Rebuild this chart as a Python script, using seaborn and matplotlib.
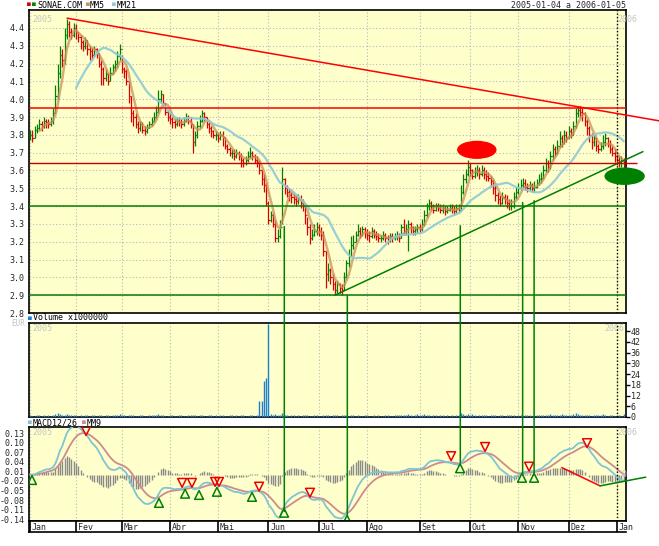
import numpy as np
import pandas as pd
import matplotlib
matplotlib.use("Agg")
import matplotlib.pyplot as plt
import matplotlib.transforms as mtransforms
from matplotlib.patches import Ellipse, ConnectionPatch
import seaborn as sns

sns.set_theme(style="white")
plt.rcParams["font.family"] = ["DejaVu Sans Mono", "DejaVu Sans"]
plt.rcParams["font.size"] = 6
plt.rcParams["axes.unicode_minus"] = False

# --- data (SONAE.COM, 2005-01-04 .. 2006-01-05) ---
close = [
    3.80, 3.78, 3.83, 3.84, 3.86, 3.85, 3.88, 3.87, 3.86, 3.88,
    3.92, 4.02, 4.15, 4.25, 4.22, 4.36, 4.42, 4.38, 4.36, 4.40,
    4.38, 4.35, 4.32, 4.30, 4.33, 4.28, 4.27, 4.25, 4.28, 4.26,
    4.20, 4.17, 4.12, 4.14, 4.10, 4.15, 4.18, 4.20, 4.24, 4.28,
    4.17, 4.16, 4.10, 4.02, 3.92, 3.90, 3.86, 3.84, 3.86, 3.83,
    3.82, 3.84, 3.86, 3.88, 3.90, 3.93, 4.00, 4.03, 3.98, 3.93,
    3.90, 3.89, 3.87, 3.86, 3.88, 3.87, 3.86, 3.88, 3.90, 3.88,
    3.86, 3.76, 3.80, 3.85, 3.88, 3.92, 3.90, 3.86, 3.84, 3.82,
    3.80, 3.80, 3.78, 3.80, 3.79, 3.74, 3.72, 3.70, 3.70, 3.68,
    3.70, 3.68, 3.66, 3.64, 3.66, 3.68, 3.70, 3.68, 3.66, 3.65,
    3.60, 3.55, 3.52, 3.42, 3.32, 3.35, 3.30, 3.22, 3.23, 3.28,
    3.55, 3.50, 3.48, 3.46, 3.45, 3.44, 3.43, 3.44, 3.42, 3.40,
    3.35, 3.28, 3.22, 3.24, 3.26, 3.28, 3.26, 3.24, 3.15, 3.02,
    3.04, 3.00, 2.96, 2.93, 2.96, 2.94, 2.93, 3.00, 3.08, 3.12,
    3.18, 3.20, 3.24, 3.26, 3.24, 3.27, 3.25, 3.24, 3.23, 3.26,
    3.24, 3.23, 3.22, 3.22, 3.24, 3.22, 3.21, 3.23, 3.22, 3.23,
    3.24, 3.22, 3.28, 3.26, 3.27, 3.30, 3.28, 3.26, 3.27, 3.28,
    3.27, 3.30, 3.35, 3.40, 3.42, 3.40, 3.38, 3.40, 3.39, 3.38,
    3.39, 3.37, 3.38, 3.39, 3.38, 3.37, 3.39, 3.38, 3.48, 3.55,
    3.58, 3.62, 3.60, 3.57, 3.59, 3.60, 3.58, 3.60, 3.58, 3.57,
    3.56, 3.54, 3.50, 3.46, 3.44, 3.42, 3.45, 3.44, 3.42, 3.40,
    3.40, 3.45, 3.48, 3.50, 3.52, 3.53, 3.51, 3.50, 3.52, 3.50,
    3.51, 3.53, 3.55, 3.56, 3.60, 3.64, 3.62, 3.68, 3.72, 3.70,
    3.74, 3.78, 3.76, 3.80, 3.78, 3.82, 3.80, 3.85, 3.92, 3.94,
    3.93, 3.92, 3.88, 3.84, 3.80, 3.76, 3.78, 3.74, 3.72, 3.74,
    3.76, 3.78, 3.75, 3.72, 3.70, 3.68, 3.66, 3.64, 3.66, 3.64,
]
high = [
    3.83, 3.83, 3.85, 3.86, 3.89, 3.88, 3.90, 3.89, 3.89, 3.90,
    3.95, 4.08, 4.20, 4.30, 4.28, 4.40, 4.45, 4.44, 4.40, 4.43,
    4.42, 4.38, 4.36, 4.33, 4.35, 4.33, 4.30, 4.29, 4.30, 4.29,
    4.26, 4.22, 4.18, 4.17, 4.15, 4.18, 4.20, 4.22, 4.27, 4.31,
    4.25, 4.18, 4.17, 4.10, 4.02, 3.94, 3.92, 3.88, 3.88, 3.87,
    3.85, 3.86, 3.88, 3.90, 3.93, 3.96, 4.05, 4.05, 4.03, 3.98,
    3.94, 3.92, 3.90, 3.89, 3.90, 3.90, 3.89, 3.90, 3.92, 3.91,
    3.90, 3.86, 3.82, 3.88, 3.91, 3.94, 3.93, 3.90, 3.87, 3.85,
    3.83, 3.82, 3.81, 3.82, 3.82, 3.79, 3.75, 3.73, 3.72, 3.72,
    3.72, 3.71, 3.70, 3.67, 3.68, 3.71, 3.73, 3.71, 3.69, 3.68,
    3.66, 3.60, 3.58, 3.53, 3.43, 3.37, 3.36, 3.32, 3.27, 3.32,
    3.62, 3.56, 3.52, 3.50, 3.48, 3.47, 3.46, 3.47, 3.46, 3.44,
    3.40, 3.34, 3.30, 3.27, 3.30, 3.31, 3.30, 3.28, 3.26, 3.15,
    3.08, 3.05, 3.02, 2.98, 2.98, 2.97, 2.96, 3.03, 3.10, 3.16,
    3.23, 3.24, 3.26, 3.30, 3.28, 3.29, 3.28, 3.27, 3.26, 3.28,
    3.27, 3.26, 3.25, 3.24, 3.26, 3.25, 3.24, 3.25, 3.25, 3.25,
    3.26, 3.25, 3.30, 3.33, 3.30, 3.32, 3.31, 3.29, 3.29, 3.30,
    3.30, 3.33, 3.38, 3.42, 3.44, 3.43, 3.41, 3.42, 3.42, 3.41,
    3.41, 3.40, 3.40, 3.41, 3.41, 3.40, 3.41, 3.41, 3.52, 3.58,
    3.61, 3.66, 3.64, 3.61, 3.62, 3.63, 3.62, 3.63, 3.62, 3.60,
    3.59, 3.57, 3.55, 3.52, 3.48, 3.46, 3.48, 3.47, 3.46, 3.44,
    3.44, 3.48, 3.51, 3.53, 3.55, 3.56, 3.55, 3.53, 3.54, 3.53,
    3.54, 3.55, 3.58, 3.59, 3.63, 3.67, 3.66, 3.71, 3.75, 3.74,
    3.77, 3.82, 3.80, 3.83, 3.82, 3.85, 3.84, 3.88, 3.95, 3.96,
    3.96, 3.95, 3.93, 3.89, 3.85, 3.81, 3.80, 3.79, 3.75, 3.76,
    3.80, 3.81, 3.79, 3.77, 3.74, 3.72, 3.69, 3.68, 3.68, 3.67,
]
low = [
    3.77, 3.76, 3.78, 3.81, 3.83, 3.82, 3.84, 3.84, 3.84, 3.85,
    3.86, 3.92, 4.00, 4.12, 4.18, 4.20, 4.34, 4.35, 4.34, 4.35,
    4.34, 4.32, 4.28, 4.27, 4.28, 4.25, 4.22, 4.22, 4.24, 4.23,
    4.18, 4.08, 4.08, 4.10, 4.08, 4.10, 4.14, 4.16, 4.18, 4.22,
    4.15, 4.12, 4.08, 3.98, 3.87, 3.85, 3.84, 3.81, 3.82, 3.81,
    3.80, 3.81, 3.84, 3.85, 3.87, 3.89, 3.92, 3.98, 3.96, 3.91,
    3.88, 3.86, 3.84, 3.84, 3.85, 3.85, 3.84, 3.85, 3.87, 3.86,
    3.84, 3.70, 3.74, 3.78, 3.84, 3.87, 3.88, 3.84, 3.81, 3.79,
    3.78, 3.77, 3.76, 3.77, 3.74, 3.72, 3.70, 3.68, 3.67, 3.66,
    3.67, 3.66, 3.62, 3.62, 3.63, 3.65, 3.67, 3.66, 3.64, 3.62,
    3.58, 3.52, 3.48, 3.40, 3.30, 3.31, 3.28, 3.20, 3.20, 3.22,
    3.30, 3.47, 3.45, 3.43, 3.42, 3.41, 3.40, 3.41, 3.39, 3.37,
    3.30, 3.24, 3.19, 3.21, 3.23, 3.24, 3.23, 3.21, 3.12, 2.94,
    2.98, 2.96, 2.93, 2.90, 2.91, 2.91, 2.90, 2.93, 2.99, 3.06,
    3.12, 3.16, 3.20, 3.23, 3.22, 3.23, 3.22, 3.21, 3.20, 3.22,
    3.22, 3.21, 3.20, 3.20, 3.21, 3.20, 3.19, 3.20, 3.20, 3.21,
    3.21, 3.20, 3.22, 3.24, 3.24, 3.15, 3.25, 3.24, 3.24, 3.25,
    3.25, 3.26, 3.29, 3.34, 3.38, 3.38, 3.36, 3.37, 3.37, 3.36,
    3.36, 3.35, 3.36, 3.37, 3.36, 3.35, 3.36, 3.36, 3.37, 3.47,
    3.53, 3.57, 3.57, 3.55, 3.56, 3.57, 3.55, 3.57, 3.55, 3.54,
    3.54, 3.51, 3.47, 3.43, 3.41, 3.40, 3.41, 3.41, 3.39, 3.38,
    3.38, 3.39, 3.44, 3.47, 3.49, 3.50, 3.49, 3.48, 3.49, 3.48,
    3.48, 3.50, 3.52, 3.53, 3.55, 3.59, 3.59, 3.61, 3.66, 3.68,
    3.69, 3.73, 3.73, 3.75, 3.76, 3.78, 3.78, 3.80, 3.84, 3.90,
    3.90, 3.88, 3.85, 3.80, 3.76, 3.72, 3.74, 3.71, 3.70, 3.71,
    3.72, 3.74, 3.73, 3.70, 3.68, 3.65, 3.63, 3.62, 3.62, 3.60,
]
volume = [  # millions
    1.0, 0.8, 0.7, 1.1, 0.9, 0.6, 1.0, 0.7, 1.2, 0.8,
    1.3, 1.5, 2.4, 1.6, 1.1, 1.3, 1.8, 1.0, 0.9, 1.2,
    1.0, 0.8, 1.1, 0.7, 1.0, 0.9, 0.7, 1.0, 1.1, 0.8,
    0.9, 1.0, 0.7, 0.9, 1.2, 0.8, 1.0, 1.3, 1.2, 1.6,
    1.0, 0.9, 0.7, 1.1, 1.3, 1.0, 0.8, 0.7, 0.9, 1.0,
    0.8, 0.7, 1.0, 0.9, 1.1, 1.0, 1.5, 1.3, 1.0, 0.8,
    0.7, 0.9, 1.0, 0.8, 0.7, 0.9, 1.0, 0.7, 0.8, 1.0,
    0.9, 1.3, 1.0, 0.8, 1.0, 1.2, 0.8, 0.7, 0.9, 1.0,
    0.8, 1.0, 0.7, 0.9, 1.0, 0.8, 0.7, 0.9, 1.0, 0.8,
    0.9, 0.7, 1.1, 1.0, 0.8, 0.7, 0.9, 1.0, 0.8, 1.2,
    9.0, 9.0, 20.0, 22.0, 52.0, 1.4, 1.2, 1.4, 1.1, 1.0,
    2.0, 1.3, 1.0, 0.8, 1.0, 0.9, 0.7, 1.0, 0.8, 0.9,
    1.0, 1.1, 0.8, 0.7, 1.0, 0.9, 0.7, 0.8, 1.1, 1.3,
    1.0, 0.8, 1.0, 1.1, 0.9, 0.7, 1.0, 1.3, 1.0, 0.8,
    1.1, 0.9, 0.7, 1.0, 0.8, 0.7, 0.9, 1.0, 0.7, 0.8,
    0.9, 0.7, 1.0, 0.8, 0.7, 0.9, 1.0, 0.7, 0.8, 1.0,
    0.9, 1.0, 1.3, 1.1, 0.9, 1.5, 1.0, 0.8, 1.0, 1.9,
    1.1, 1.0, 1.4, 1.3, 1.0, 0.8, 1.0, 0.9, 0.7, 1.0,
    0.9, 0.7, 1.0, 0.8, 1.0, 0.7, 0.9, 1.0, 2.0, 1.5,
    1.3, 1.4, 1.1, 1.8, 1.0, 0.8, 1.0, 1.1, 0.9, 1.0,
    0.8, 1.0, 1.1, 1.0, 0.8, 1.0, 0.9, 0.7, 1.0, 1.1,
    1.3, 1.0, 0.8, 1.0, 0.9, 0.7, 1.0, 0.9, 1.0, 0.8,
    0.9, 1.0, 1.1, 0.9, 1.0, 1.3, 1.1, 1.4, 1.3, 1.1,
    1.0, 1.3, 1.7, 1.1, 1.0, 1.3, 1.1, 1.4, 2.0, 1.5,
    1.3, 1.1, 1.0, 1.1, 1.0, 0.8, 1.1, 1.0, 0.9, 1.0,
    1.5, 1.0, 0.8, 1.0, 0.9, 0.7, 0.9, 1.0, 0.8, 1.6,
]

# MACD crossover markers (trading day, MACD level)
buy_day = [0.8, 56.2, 67.6, 73.7, 81.5, 96.8, 110.8, 138.3, 187.6, 214.6, 219.9]
buy_val = [-0.017, -0.089, -0.060, -0.064, -0.054, -0.070, -0.120, -0.142, 0.020, -0.010, -0.010]
sell_day = [24.4, 66.3, 70.6, 80.7, 82.4, 99.9, 122.1, 183.7, 198.5, 217.7, 243.0]
sell_val = [0.137, -0.026, -0.026, -0.023, -0.023, -0.038, -0.057, 0.058, 0.087, 0.025, 0.099]

# hand-drawn analysis lines
red_trend_day, red_trend_px = [16.1, 274.4], [4.455, 3.879]
green_trend_day, green_trend_px = [133.0, 267.4], [2.90, 3.706]
red_levels = [3.95, 3.64]
green_levels = [3.40, 2.90]
link_day = [110.9, 138.4, 187.7, 214.9, 219.9]
link_price = [3.285, 2.90, 3.29, 3.42, 3.43]
link_macd = [-0.116, -0.132, 0.037, 0.0, 0.0]
macd_red_day, macd_red_val = [232.0, 248.7], [0.022, -0.0355]
macd_green_day, macd_green_val = [248.7, 268.6], [-0.0355, -0.008]
month_names = ["Jan", "Fev", "Mar", "Abr", "Mai", "Jun", "Jul", "Ago", "Set", "Out", "Nov", "Dez", "Jan"]

# --- trading calendar ---
dates = pd.bdate_range("2005-01-04", "2006-01-05")
dates = dates[~dates.isin(pd.to_datetime(["2005-03-25", "2005-03-28", "2005-12-26"]))]
df = pd.DataFrame({"date": dates, "close": close, "high": high, "low": low, "volume": volume})
df["day"] = np.arange(len(df))
df["open"] = df["close"].shift(1).fillna(df["close"])
df["ma5"] = df["close"].rolling(5).mean()
df["ma21"] = df["close"].rolling(21).mean()
df["macd"] = df["close"].ewm(span=12, adjust=False).mean() - df["close"].ewm(span=26, adjust=False).mean()
df["sig"] = df["macd"].ewm(span=9, adjust=False).mean()
df["hist"] = df["macd"] - df["sig"]
month_start = df.groupby(df["date"].dt.to_period("M"))["day"].min().tolist()

BG = "#ffffcc"
RED, GREEN = "#dd0000", "#008000"
GRID = dict(color="#b8b8b8", linestyle=(0, (1, 2)), linewidth=0.8)
LIGHT = "#c4c4c4"
FS = 6

W, H = 659, 546
fig = plt.figure(figsize=(W / 100, H / 100), dpi=100)


def fx(x):
    return x / W


def fy(y):
    return 1 - y / H


left, right = 29, 626
ax_p = fig.add_axes([fx(left), fy(313), fx(right) - fx(left), fy(10) - fy(313)])
ax_v = fig.add_axes([fx(left), fy(417), fx(right) - fx(left), fy(323) - fy(417)])
ax_m = fig.add_axes([fx(left), fy(521), fx(right) - fx(left), fy(427) - fy(521)])
ax_t = fig.add_axes([fx(left), fy(532), fx(right) - fx(left), fy(521) - fy(532)])

for ax in (ax_p, ax_v, ax_m, ax_t):
    ax.set_xlim(-0.5, 260)
    ax.set_facecolor(BG)
    for s in ax.spines.values():
        s.set_color("black")
        s.set_linewidth(1.2)
ax_t.set_facecolor("white")

# --- price panel ---
up = df["close"] >= df["open"]
cols = np.where(up, GREEN, RED)
ax_p.vlines(df["day"], df["low"], df["high"], colors=cols, lw=0.9, zorder=3)
ax_p.hlines(df["open"], df["day"] - 0.5, df["day"], colors=cols, lw=0.9, zorder=3)
ax_p.hlines(df["close"], df["day"], df["day"] + 0.5, colors=cols, lw=0.9, zorder=3)
sns.lineplot(data=df, x="day", y="ma5", ax=ax_p, color="#c8925a", alpha=0.75, lw=1.8, zorder=4)
sns.lineplot(data=df, x="day", y="ma21", ax=ax_p, color="#8ecad6", alpha=0.9, lw=1.6, zorder=4)

ax_p.plot(red_trend_day, red_trend_px, color="#ff0000", lw=1.1, clip_on=False, zorder=6)
ax_p.plot(green_trend_day, green_trend_px, color=GREEN, lw=1.1, clip_on=False, zorder=6)
ax_p.hlines(red_levels[0], -0.5, 260, color="#ff0000", lw=1.1, zorder=6)
ax_p.hlines(red_levels[1], -0.5, 265, color="#cc0000", lw=1.0, clip_on=False, zorder=6)
ax_p.hlines(green_levels, -0.5, 260, color=GREEN, lw=1.1, zorder=6)
ax_p.add_patch(Ellipse((194.9, 3.716), 16.6, 0.094, color="#ff0000", zorder=7))
ax_p.add_patch(Ellipse((259.4, 3.568), 17.0, 0.090, color=GREEN, zorder=7, clip_on=False))

ax_p.set_ylim(2.8, 4.501)
ax_p.set_yticks(np.round(np.arange(2.8, 4.41, 0.1), 1))
ax_p.set_yticklabels([f"{v:.1f}" for v in np.arange(2.8, 4.41, 0.1)])
ax_p.set_xticks(month_start)
ax_p.grid(True, **GRID)

# --- volume panel ---
ax_v.vlines(df["day"], 0, df["volume"], color="#1a7fd0", lw=1.0, zorder=3)
ax_v.set_ylim(0, 52.5)
ax_v.yaxis.tick_right()
ax_v.set_yticks(range(0, 49, 6))
ax_v.set_xticks(month_start)
ax_v.grid(True, axis="x", **GRID)

# --- MACD panel ---
ax_m.vlines(df["day"], 0, df["hist"], color="#8a8a8a", lw=1.0, zorder=2)
sns.lineplot(data=df, x="day", y="sig", ax=ax_m, color="#cc8c8c", lw=1.3, zorder=3)
sns.lineplot(data=df, x="day", y="macd", ax=ax_m, color="#80c4d4", lw=1.3, zorder=3)
ax_m.scatter(buy_day, buy_val, marker="^", s=40, facecolors="none", edgecolors=GREEN, linewidths=1.1, zorder=5)
ax_m.scatter(sell_day, sell_val, marker="v", s=40, facecolors="none", edgecolors="#ee0000", linewidths=1.1, zorder=5)
ax_m.plot(macd_red_day, macd_red_val, color="#ff0000", lw=1.1, zorder=6)
ax_m.plot(macd_green_day, macd_green_val, color=GREEN, lw=1.1, clip_on=False, zorder=6)
ax_m.set_ylim(-0.146, 0.1498)
mt = [0.13, 0.10, 0.07, 0.04, 0.01, -0.02, -0.05, -0.08, -0.11, -0.14]
ax_m.set_yticks(mt)
ax_m.set_yticklabels([f"{v:.2f}" for v in mt])
ax_m.set_xticks(month_start)
ax_m.grid(True, axis="x", **GRID)
ax_m.text(1.0, 0.0, "0", transform=mtransforms.blended_transform_factory(ax_m.transAxes, ax_m.transData),
          ha="right", va="center", color=LIGHT, fontsize=FS)

for ax in (ax_p, ax_v, ax_m):
    ax.set_xlabel("")
    ax.set_ylabel("")
    ax.tick_params(axis="x", length=0, labelbottom=False)
    ax.tick_params(axis="y", length=3, width=1, color="black", pad=0.5, labelsize=FS, direction="out")
    ax.axvline(256, color="black", ls=(0, (1, 1.5)), lw=1.0, zorder=5)
    ax.text(0.006, 0.985, "2005", transform=ax.transAxes, ha="left", va="top", color=LIGHT, fontsize=FS)
ax_p.text(256.2, 0.985, "2006", transform=mtransforms.blended_transform_factory(ax_p.transData, ax_p.transAxes),
          ha="left", va="top", color=LIGHT, fontsize=FS)
ax_m.text(256.2, 0.985, "2006", transform=mtransforms.blended_transform_factory(ax_m.transData, ax_m.transAxes),
          ha="left", va="top", color=LIGHT, fontsize=FS)
ax_v.text(0.998, 0.985, "2006", transform=ax_v.transAxes, ha="right", va="top", color=LIGHT, fontsize=FS)
ax_v.tick_params(axis="y", left=False, right=True)

# --- month strip ---
ax_t.set_ylim(0, 1)
ax_t.set_xticks([])
ax_t.set_yticks([])
ax_t.spines["right"].set_visible(False)
for d, name in zip(month_start, month_names):
    ax_t.axvline(d, color="black", lw=1.2)
    ax_t.text(d + 0.7, 0.45, name, ha="left", va="center", fontsize=FS, clip_on=False)

# links from price pattern down to MACD crossing
for d, p, m in zip(link_day, link_price, link_macd):
    con = ConnectionPatch(xyA=(d, p), coordsA=ax_p.transData, xyB=(d, m), coordsB=ax_m.transData,
                          color=GREEN, lw=1.1, zorder=8)
    fig.add_artist(con)


# --- headers ---
def label(x, y, s, color="black", size=FS):
    fig.text(fx(x), fy(y), s, color=color, fontsize=size, ha="left", va="center")


label(27, 5, "■", RED, 4.5)
label(32, 5, "■", GREEN, 4.5)
label(37, 5, "SONAE.COM")
label(86, 5, "■", "#c8925a", 4.5)
label(90, 5, "MM5")
label(112, 5, "■", "#8ecad6", 4.5)
label(117, 5, "MM21")
fig.text(fx(626), fy(5), "2005-01-04 a 2006-01-05", fontsize=FS, ha="right", va="center")
label(28, 318, "■", "#1a7fd0", 4.5)
label(33, 318, "Volume x1000000")
fig.text(fx(25), fy(323), "EUR", fontsize=5.5, ha="right", va="center", color=LIGHT)
label(28, 423, "■", "#80c4d4", 4.5)
label(33, 423, "MACD12/26")
label(82, 423, "■", "#cc8c8c", 4.5)
label(87, 423, "MM9")

fig.savefig("out.png", dpi=100)
